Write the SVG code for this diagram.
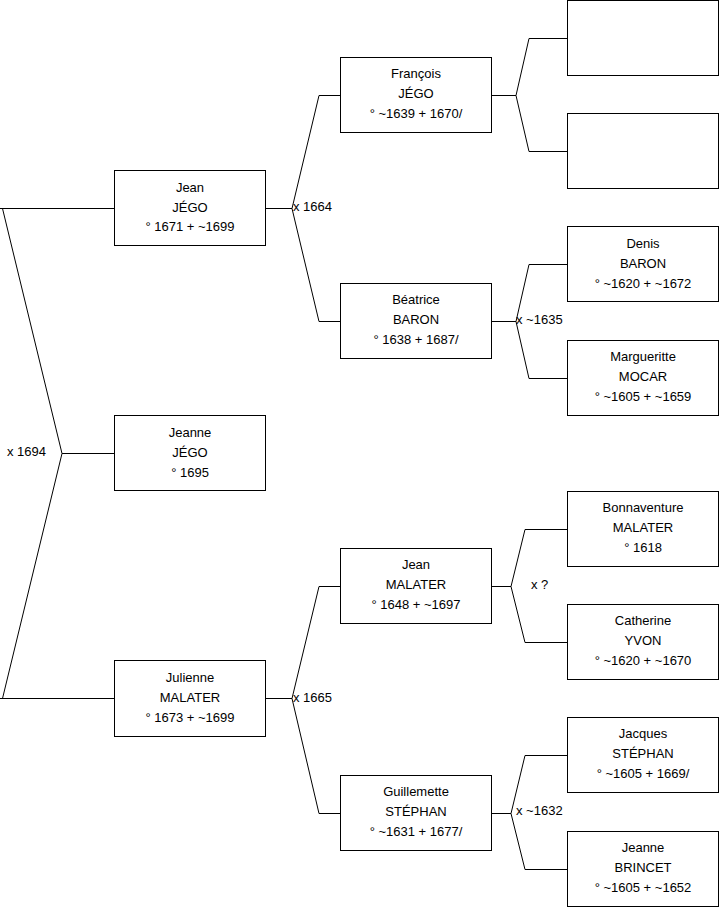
<svg xmlns="http://www.w3.org/2000/svg" width="719" height="908" viewBox="0 0 719 908">
<style>
.box{fill:#fff;stroke:#000;stroke-width:1}
.ln{fill:none;stroke:#000;stroke-width:1}
text{font-family:"Liberation Sans",Arial,sans-serif;font-size:13px;fill:#000}
.c{text-anchor:middle}
</style>
<rect width="719" height="908" fill="#fff"/>
<g id="connectors">
<path class="ln" d="M0,208.5H114.5 M0,698.5H114.5 M2.5,208.5L62,453.5L2.5,698.5 M62,453.5H114.5"/>
<path class="ln" d="M265.5,208.5H292 M292,208.5L319,95.5H340.5 M292,208.5L319,321.5H340.5"/>
<path class="ln" d="M265.5,698.5H292 M292,698.5L319,586.5H340.5 M292,698.5L319,813.5H340.5"/>
<path class="ln" d="M491.5,95.5H516 M516,95.5L529,38.5H567.5 M516,95.5L529,151.5H567.5"/>
<path class="ln" d="M491.5,321.5H516 M516,321.5L529,264.5H567.5 M516,321.5L529,378.5H567.5"/>
<path class="ln" d="M491.5,586.5H511 M511,586.5L525,529.5H567.5 M511,586.5L525,642.5H567.5"/>
<path class="ln" d="M491.5,813.5H511 M511,813.5L525,755.5H567.5 M511,813.5L525,869.5H567.5"/>
<text x="7" y="456">x 1694</text>
<text x="293" y="211">x 1664</text>
<text x="293" y="702">x 1665</text>
<text x="516" y="324">x ~1635</text>
<text x="531" y="589">x ?</text>
<text x="516" y="815">x ~1632</text>
</g>
<g id="jean-jego"><rect class="box" x="114.5" y="170.5" width="151" height="75"/>
<text class="c" x="190" y="191.5">Jean</text><text class="c" x="190" y="211.5">JÉGO</text><text class="c" x="190" y="231">° 1671 + ~1699</text></g>
<g id="jeanne-jego"><rect class="box" x="114.5" y="415.5" width="151" height="75"/>
<text class="c" x="190" y="437">Jeanne</text><text class="c" x="190" y="457">JÉGO</text><text class="c" x="190" y="477">° 1695</text></g>
<g id="julienne-malater"><rect class="box" x="114.5" y="660.5" width="151" height="76"/>
<text class="c" x="190" y="682">Julienne</text><text class="c" x="190" y="702">MALATER</text><text class="c" x="190" y="722">° 1673 + ~1699</text></g>
<g id="francois-jego"><rect class="box" x="340.5" y="57.5" width="151" height="75"/>
<text class="c" x="416" y="78">François</text><text class="c" x="416" y="98">JÉGO</text><text class="c" x="416" y="118">° ~1639 + 1670/</text></g>
<g id="beatrice-baron"><rect class="box" x="340.5" y="283.5" width="151" height="75"/>
<text class="c" x="416" y="304">Béatrice</text><text class="c" x="416" y="324">BARON</text><text class="c" x="416" y="344">° 1638 + 1687/</text></g>
<g id="jean-malater"><rect class="box" x="340.5" y="548.5" width="151" height="75"/>
<text class="c" x="416" y="569">Jean</text><text class="c" x="416" y="589">MALATER</text><text class="c" x="416" y="609">° 1648 + ~1697</text></g>
<g id="guillemette-stephan"><rect class="box" x="340.5" y="775.5" width="151" height="75"/>
<text class="c" x="416" y="796">Guillemette</text><text class="c" x="416" y="816">STÉPHAN</text><text class="c" x="416" y="836">° ~1631 + 1677/</text></g>
<g id="empty-1"><rect class="box" x="567.5" y="0.5" width="151" height="75"/></g>
<g id="empty-2"><rect class="box" x="567.5" y="113.5" width="151" height="75"/></g>
<g id="denis-baron"><rect class="box" x="567.5" y="226.5" width="151" height="75"/>
<text class="c" x="643" y="248">Denis</text><text class="c" x="643" y="268">BARON</text><text class="c" x="643" y="288">° ~1620 + ~1672</text></g>
<g id="margueritte-mocar"><rect class="box" x="567.5" y="340.5" width="151" height="75"/>
<text class="c" x="643" y="361">Margueritte</text><text class="c" x="643" y="381">MOCAR</text><text class="c" x="643" y="401">° ~1605 + ~1659</text></g>
<g id="bonnaventure-malater"><rect class="box" x="567.5" y="491.5" width="151" height="75"/>
<text class="c" x="643" y="512">Bonnaventure</text><text class="c" x="643" y="532">MALATER</text><text class="c" x="643" y="552">° 1618</text></g>
<g id="catherine-yvon"><rect class="box" x="567.5" y="604.5" width="151" height="75"/>
<text class="c" x="643" y="625">Catherine</text><text class="c" x="643" y="645">YVON</text><text class="c" x="643" y="665">° ~1620 + ~1670</text></g>
<g id="jacques-stephan"><rect class="box" x="567.5" y="717.5" width="151" height="75"/>
<text class="c" x="643" y="738">Jacques</text><text class="c" x="643" y="758">STÉPHAN</text><text class="c" x="643" y="778">° ~1605 + 1669/</text></g>
<g id="jeanne-brincet"><rect class="box" x="567.5" y="831.5" width="151" height="75"/>
<text class="c" x="643" y="852">Jeanne</text><text class="c" x="643" y="872">BRINCET</text><text class="c" x="643" y="892">° ~1605 + ~1652</text></g>
</svg>
